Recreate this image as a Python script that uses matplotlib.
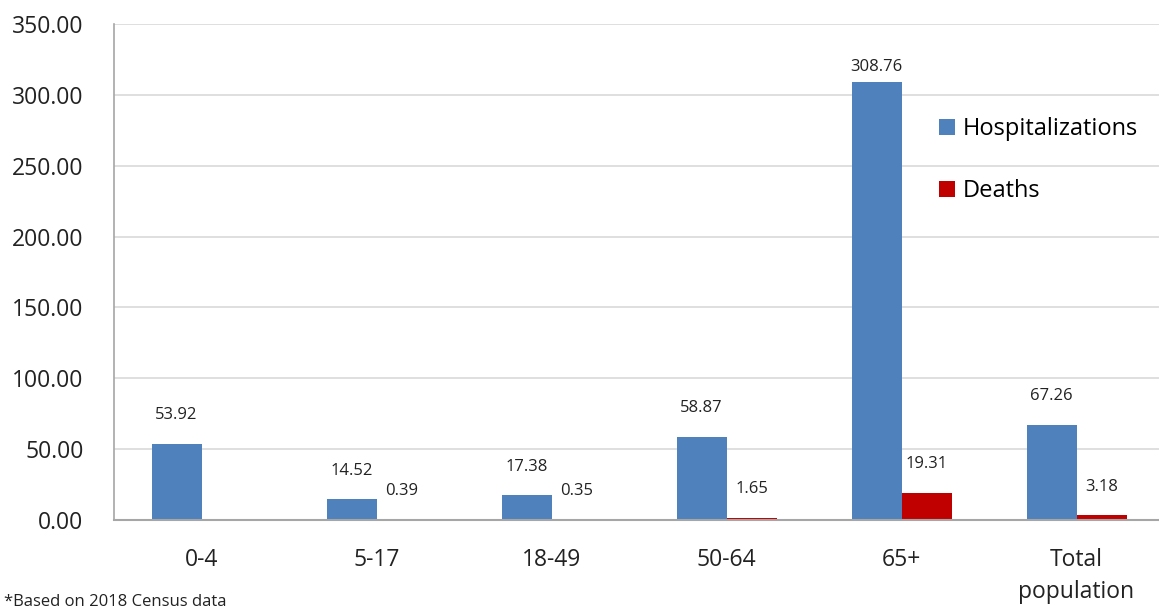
import matplotlib
matplotlib.use('Agg')
import matplotlib.pyplot as plt
import numpy as np
from matplotlib.patches import Patch

plt.rcParams['font.family'] = ['Open Sans', 'DejaVu Sans']

# Data
categories = ['0-4', '5-17', '18-49', '50-64', '65+', 'Total\npopulation']
hospitalizations = [53.92, 14.52, 17.38, 58.87, 308.76, 67.26]
deaths = [np.nan, 0.39, 0.35, 1.65, 19.31, 3.18]
yticks = [0, 50, 100, 150, 200, 250, 300, 350]

BLUE = '#4f81bd'
RED = '#c00000'

fig = plt.figure(figsize=(11.59, 6.12), dpi=100)
ax = fig.add_axes([114 / 1159, 1 - 520 / 612, 1050 / 1159, 496 / 612])

x = np.arange(len(categories))
w = 1 / 3.5

hb = ax.bar(x - w / 2, hospitalizations, width=w, color=BLUE, zorder=3)
db = ax.bar(x + w / 2, np.nan_to_num(deaths), width=w, color=RED, zorder=3)


def label_bars(bars, values):
    for rect, v in zip(bars, values):
        if np.isnan(v):
            continue
        off = 5 if v > 300 else 15
        ax.annotate(f'{v:.2f}', (rect.get_x() + rect.get_width() / 2, rect.get_height()),
                    xytext=(0, off), textcoords='offset points',
                    ha='center', va='bottom', fontsize=12, color='#222222')


label_bars(hb, hospitalizations)
label_bars(db, deaths)

ax.set_xlim(-0.5, len(categories) - 0.5)
ax.set_ylim(0, 350)
ax.set_yticks(yticks)
ax.set_yticklabels([f'{t:.2f}' for t in yticks], fontsize=16.5, color='#222222')
ax.set_xticks(x)
ax.set_xticklabels(categories, fontsize=16.5, color='#222222', linespacing=1.45)
ax.tick_params(axis='both', length=0)
ax.tick_params(axis='y', pad=22)
ax.tick_params(axis='x', pad=20)

ax.grid(True, axis='y', color='#d9d9d9', linewidth=1.2, zorder=0)
for s in ['top', 'right']:
    ax.spines[s].set_visible(False)
ax.spines['left'].set_color('#a6a6a6')
ax.spines['left'].set_linewidth(1.2)
ax.spines['bottom'].set_color('#a6a6a6')
ax.spines['bottom'].set_linewidth(1.5)
ax.spines['bottom'].set_zorder(4)

handles = [Patch(facecolor=BLUE, label='Hospitalizations'),
           Patch(facecolor=RED, label='Deaths')]
fig.legend(handles=handles, loc='upper left', bbox_to_anchor=(930 / 1159, 1 - 108 / 612),
           frameon=False, fontsize=17, handlelength=0.65, handleheight=0.65,
           handletextpad=0.35, labelspacing=1.6, borderaxespad=0)

fig.text(4 / 1159, 1 - 594 / 612, '*Based on 2018 Census data', fontsize=12,
         color='#222222', va='top', ha='left')

fig.savefig('out.png', dpi=100)
